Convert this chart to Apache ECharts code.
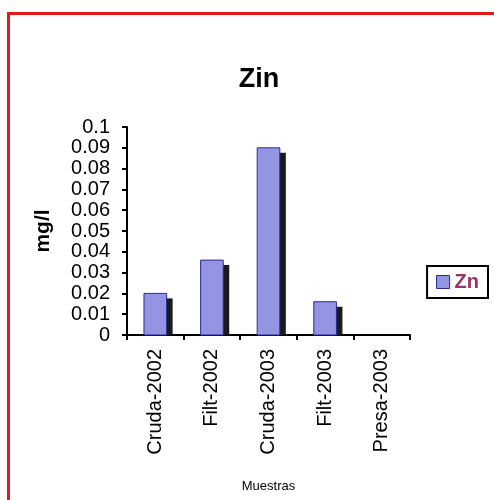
<!DOCTYPE html>
<html>
<head>
<meta charset="utf-8">
<script src="https://cdn.jsdelivr.net/npm/echarts@6/dist/echarts.min.js"></script>
<style>
  html, body { margin: 0; padding: 0; background: #fff; }
  #frame { position: absolute; left: 7px; top: 12px; width: 487px; height: 488px;
           border-left: 3px solid #e41a1a; border-top: 3px solid #e41a1a; box-sizing: border-box; }
  #chart { position: absolute; left: 0; top: 0; width: 494px; height: 500px; }
</style>
</head>
<body>
<div id="frame"></div>
<div id="chart"></div>
<script>
// Zinc concentration per sample (mg/l)
const categories = ['Cruda-2002', 'Filt-2002', 'Cruda-2003', 'Filt-2003', 'Presa-2003'];
const zn = [0.020, 0.036, 0.090, 0.016, 0];
const yTicks = [0, 0.01, 0.02, 0.03, 0.04, 0.05, 0.06, 0.07, 0.08, 0.09, 0.1];

const chart = echarts.init(document.getElementById('chart'), null, { renderer: 'canvas' });

// Bar with a dropped shadow that stops at the baseline
function renderBar(params, api) {
  const v = api.value(1);
  if (!v) return null;
  const top = api.coord([api.value(0), v]);
  const base = api.coord([api.value(0), 0]);
  const w = api.size([1, 0])[0] * 0.4;
  const x0 = top[0] - w / 2;
  return {
    type: 'group',
    children: [
      { type: 'rect', shape: { x: x0 + 6, y: top[1] + 5, width: w, height: base[1] - top[1] - 5 },
        style: { fill: '#1a1a1a' } },
      { type: 'rect', shape: { x: x0, y: top[1], width: w, height: base[1] - top[1] },
        style: { fill: '#9494e4', stroke: '#2b2b96', lineWidth: 1 } }
    ]
  };
}

chart.setOption({
  animation: false,
  backgroundColor: 'transparent',
  title: {
    text: 'Zin', left: 254, top: 61, textAlign: 'center',
    textStyle: { fontFamily: 'Liberation Sans', fontSize: 27, fontWeight: 'bold', color: '#000' }
  },
  legend: {
    right: 6, top: 266, orient: 'vertical',
    borderColor: '#000', borderWidth: 2, padding: [6, 9, 6, 9],
    itemWidth: 13, itemHeight: 13, itemGap: 4,
    icon: 'rect',
    textStyle: { fontFamily: 'Liberation Sans', fontSize: 20, fontWeight: 'bold', color: '#993366', padding: [0, 0, 0, 0] },
    data: [{ name: 'Zn', itemStyle: { color: '#9494e4', borderColor: '#2b2b96', borderWidth: 1 } }]
  },
  grid: { left: 127, right: 84, top: 127, bottom: 165 },
  xAxis: {
    type: 'category', data: categories,
    name: 'Muestras', nameLocation: 'middle', nameGap: 145,
    nameTextStyle: { fontFamily: 'Liberation Sans', fontSize: 13, color: '#000' },
    axisLine: { lineStyle: { color: '#000', width: 2 } },
    axisTick: { show: true, length: 5, lineStyle: { color: '#000', width: 2 } },
    axisLabel: { rotate: 90, margin: 14, fontFamily: 'Liberation Sans', fontSize: 20, color: '#000', interval: 0 }
  },
  yAxis: {
    type: 'value', min: 0, max: 0.1, interval: 0.01,
    name: 'mg/l', nameLocation: 'middle', nameGap: 73, nameRotate: 90,
    nameTextStyle: { fontFamily: 'Liberation Sans', fontSize: 21, fontWeight: 'bold', color: '#000' },
    axisLine: { show: true, lineStyle: { color: '#000', width: 2 } },
    axisTick: { show: true, length: 5, lineStyle: { color: '#000', width: 2 } },
    splitLine: { show: false },
    axisLabel: {
      margin: 17, fontFamily: 'Liberation Sans', fontSize: 20, color: '#000',
      formatter: v => {
        const t = yTicks.find(k => Math.abs(k - v) < 1e-9);
        return String(t !== undefined ? t : +v.toFixed(2));
      }
    }
  },
  series: [{
    name: 'Zn', type: 'custom', renderItem: renderBar,
    itemStyle: { color: '#9494e4' },
    encode: { x: 0, y: 1 },
    data: categories.map((c, i) => [i, zn[i]])
  }]
});
</script>
</body>
</html>
